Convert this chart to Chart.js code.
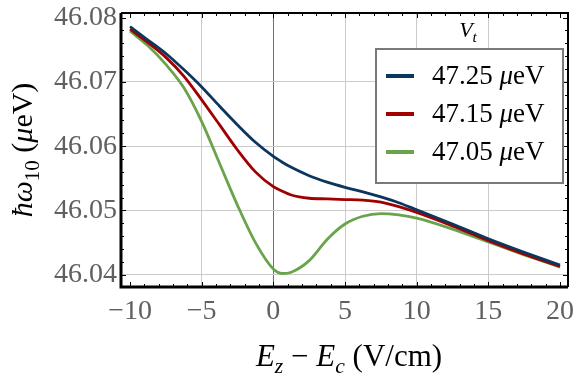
<!DOCTYPE html>
<html>
<head>
<meta charset="utf-8">
<script src="https://cdn.jsdelivr.net/npm/chart.js@4.4.1/dist/chart.umd.min.js"></script>
<style>
  html, body { margin: 0; padding: 0; background: #fff; }
  #wrap { width: 576px; height: 374px; }
</style>
</head>
<body>
<div id="wrap"><canvas id="myChart"></canvas></div>
<script>
// Donnees
const fieldValues = [-10, -8.75, -7.5, -6.25, -5, -3.75, -2.5, -1.25, 0, 0.625, 1.25, 2.5, 3.75, 5, 6.25, 7.5, 8.75, 10, 12.5, 15, 17.5, 20]
const omega4725 = [46.0786, 46.0765, 46.0744, 46.0719, 46.0692, 46.0662, 46.0633, 46.0606, 46.0584, 46.0575, 46.0567, 46.0554, 46.0544, 46.0536, 46.0529, 46.0521, 46.0512, 46.0501, 46.0479, 46.0456, 46.0435, 46.0415]
const omega4715 = [46.0782, 46.0761, 46.0738, 46.0709, 46.0672, 46.0633, 46.0594, 46.0560, 46.0537, 46.0530, 46.0524, 46.0519, 46.0518, 46.0517, 46.0516, 46.0513, 46.0506, 46.0497, 46.0476, 46.0453, 46.0432, 46.0413]
const omega4705 = [46.0779, 46.0756, 46.0727, 46.0691, 46.0638, 46.0573, 46.0508, 46.0450, 46.0409, 46.0402, 46.0404, 46.0422, 46.0455, 46.0479, 46.0491, 46.0495, 46.0493, 46.0488, 46.0471, 46.0451, 46.0431, 46.0412]
const seriesLabels = ["47.25", "47.15", "47.05"]
const xTicks = [-10, -5, 0, 5, 10, 15, 20]
const yTicks = [46.04, 46.05, 46.06, 46.07, 46.08]

const colors = ["#0b365e", "#a00000", "#6ba34c"]
const serif = "'Liberation Serif', 'DejaVu Serif', serif"
const tickColor = "#606060"

function toPoints(values) {
    return values.map((v, i) => ({ x: fieldValues[i], y: v }))
}

// Texte avec indices (italique / droit)
function richWidth(ctx, parts, size) {
    let w = 0
    parts.forEach(p => {
        const s = p.sub ? size * 0.7 : size
        ctx.font = (p.it ? "italic " : "") + s + "px " + serif
        w += ctx.measureText(p.t).width
    })
    return w
}
function drawRich(ctx, parts, x, y, size, align) {
    let cx = align === "center" ? x - richWidth(ctx, parts, size) / 2 : x
    ctx.textBaseline = "alphabetic"
    ctx.textAlign = "left"
    parts.forEach(p => {
        const s = p.sub ? size * 0.7 : size
        ctx.font = (p.it ? "italic " : "") + s + "px " + serif
        ctx.fillText(p.t, cx, p.sub ? y + size * 0.22 : y)
        cx += ctx.measureText(p.t).width
    })
}

// Cadre avec graduations vers l'interieur
const framePlugin = {
    id: "frame",
    afterDatasetsDraw(chart) {
        const { ctx, chartArea: a, scales: { x, y } } = chart
        ctx.save()
        ctx.strokeStyle = "#000"
        ctx.lineWidth = 1
        ctx.beginPath()
        for (let v = -10; v <= 20; v++) {
            const px = Math.round(x.getPixelForValue(v)) + 0.5
            const len = v % 5 === 0 ? 5 : 3
            ctx.moveTo(px, a.bottom); ctx.lineTo(px, a.bottom - len)
            ctx.moveTo(px, a.top); ctx.lineTo(px, a.top + len)
        }
        for (let k = 0; k <= 20; k++) {
            const v = 46.04 + k * 0.002
            const py = Math.round(y.getPixelForValue(v)) + 0.5
            const len = k % 5 === 0 ? 5 : 3
            ctx.moveTo(a.left, py); ctx.lineTo(a.left + len, py)
            ctx.moveTo(a.right, py); ctx.lineTo(a.right - len, py)
        }
        ctx.stroke()
        ctx.lineWidth = 3
        ctx.beginPath()
        ctx.moveTo(a.left, a.top); ctx.lineTo(a.left, a.bottom); ctx.lineTo(a.right, a.bottom)
        ctx.stroke()
        ctx.lineWidth = 2
        ctx.beginPath()
        ctx.moveTo(a.left, a.top); ctx.lineTo(a.right, a.top); ctx.lineTo(a.right, a.bottom)
        ctx.stroke()
        ctx.restore()
    }
}

// Titres des axes et legende
const textPlugin = {
    id: "texts",
    afterDraw(chart) {
        const { ctx } = chart
        ctx.save()
        ctx.fillStyle = "#000"
        // axe x
        drawRich(ctx, [
            { t: "E", it: true }, { t: "z", it: true, sub: true }, { t: " \u2212 " },
            { t: "E", it: true }, { t: "c", it: true, sub: true }, { t: " (V/cm)" }
        ], 349, 366, 31, "center")
        // axe y
        ctx.save()
        ctx.translate(32, 150)
        ctx.rotate(-Math.PI / 2)
        drawRich(ctx, [
            { t: "\u0127", it: true }, { t: "\u03C9", it: true }, { t: "10", sub: true },
            { t: " (" }, { t: "\u03BC", it: true }, { t: "eV)" }
        ], 0, 0, 30, "center")
        ctx.restore()
        // legende
        const box = { x: 376, y: 49, w: 187, h: 134 }
        ctx.fillStyle = "#fff"
        ctx.fillRect(box.x, box.y, box.w, box.h)
        ctx.strokeStyle = "#7a7a7a"
        ctx.lineWidth = 2
        ctx.strokeRect(box.x, box.y, box.w, box.h)
        ctx.fillStyle = "#000"
        drawRich(ctx, [{ t: "V", it: true }, { t: "t", it: true, sub: true }], 468, 37, 22, "center")
        chart.data.datasets.forEach((ds, i) => {
            const ly = 76 + i * 38
            ctx.strokeStyle = ds.borderColor
            ctx.lineWidth = 4
            ctx.beginPath()
            ctx.moveTo(386, ly); ctx.lineTo(414, ly)
            ctx.stroke()
            ctx.fillStyle = "#000"
            drawRich(ctx, [{ t: seriesLabels[i] + " " }, { t: "\u03BC", it: true }, { t: "eV" }], 432, ly + 8, 27, "left")
        })
        ctx.restore()
    }
}

const datasets = [omega4725, omega4715, omega4705].map((vals, i) => ({
    label: seriesLabels[i] + " \u03BCeV",
    data: toPoints(vals),
    borderColor: colors[i],
    borderWidth: 2.8,
    pointRadius: 0,
    cubicInterpolationMode: "monotone",
    fill: false
}))

new Chart(document.getElementById("myChart"), {
    type: "line",
    data: { datasets: datasets },
    options: {
        responsive: true,
        maintainAspectRatio: false,
        animation: false,
        layout: { padding: { top: 13, right: 8, left: 0, bottom: 0 } },
        plugins: { legend: { display: false }, tooltip: { enabled: false } },
        scales: {
            x: {
                type: "linear",
                min: -10.63,
                max: 20.56,
                afterBuildTicks: s => { s.ticks = xTicks.map(v => ({ value: v })) },
                afterFit: s => { s.height = 87; s.paddingLeft = 0; s.paddingRight = 0 },
                border: { display: false },
                grid: {
                    drawTicks: false,
                    lineWidth: 1,
                    color: c => c.tick.value === 0 ? "#6e6e6e" : (c.tick.value === -10 || c.tick.value === 20 ? "rgba(0,0,0,0)" : "#cbcbcb")
                },
                ticks: {
                    padding: 8,
                    color: tickColor,
                    font: { family: serif, size: 28 },
                    callback: v => (v < 0 ? "\u2212" + Math.abs(v) : String(v))
                }
            },
            y: {
                min: 46.0381,
                max: 46.0807,
                afterBuildTicks: s => { s.ticks = yTicks.map(v => ({ value: v })) },
                afterFit: s => { s.width = 121; s.paddingTop = 0; s.paddingBottom = 0 },
                border: { display: false },
                grid: {
                    drawTicks: false,
                    lineWidth: 1,
                    color: c => c.tick.value > 46.075 ? "rgba(0,0,0,0)" : "#cbcbcb"
                },
                ticks: {
                    padding: 4,
                    color: tickColor,
                    font: { family: serif, size: 28 },
                    callback: v => v.toFixed(2)
                }
            }
        }
    },
    plugins: [framePlugin, textPlugin]
})
</script>
</body>
</html>
